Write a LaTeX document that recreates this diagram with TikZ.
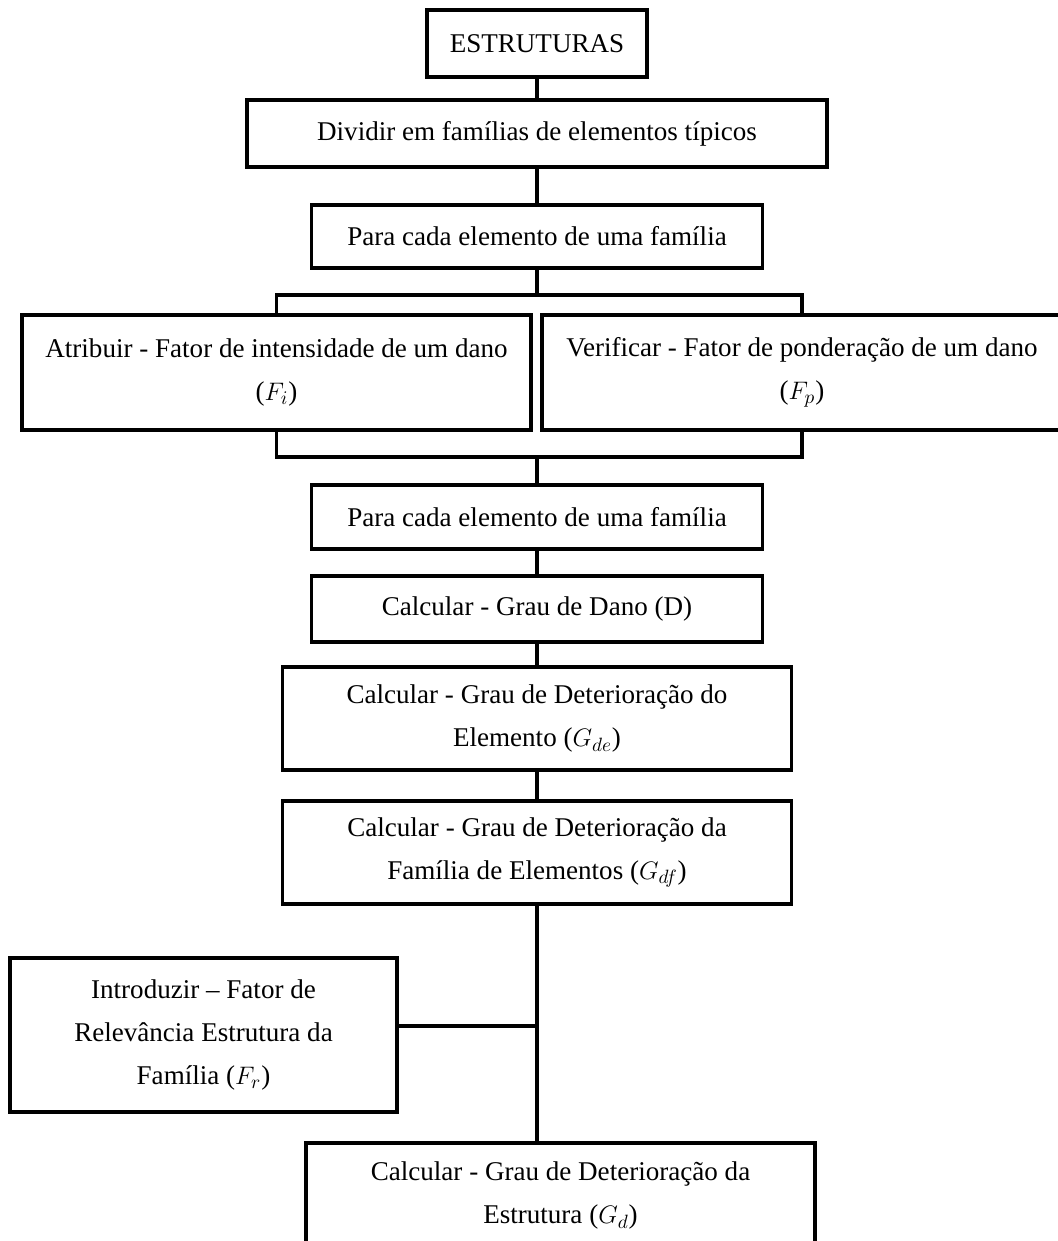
\documentclass[tikz,border=0pt]{standalone}
\usepackage{fontspec}
\setmainfont{Liberation Serif}
\usepackage{tikz}
\usetikzlibrary{positioning}
\tikzset{box/.style={draw,line width=2.1pt,align=center,inner sep=0pt,font=\fontsize{15.4}{24.5}\selectfont},link/.style={line width=2.1pt}}
\begin{document}
\begin{tikzpicture}
\useasboundingbox (0,0) rectangle (21.16,-24.82);
\node[box,minimum width=4.4cm,minimum height=1.34cm] (estr) at (10.74,-0.87) {ESTRUTURAS};
\node[box,minimum width=11.6cm,minimum height=1.34cm] (dividir) at (10.74,-2.67) {Dividir em famílias de elementos típicos};
\node[box,minimum width=9.02cm,minimum height=1.26cm] (para1) at (10.74,-4.73) {Para cada elemento de uma família};
\node[box,minimum width=10.18cm,minimum height=2.3cm] (atrib) at (5.53,-7.45) {Atribuir - Fator de intensidade de um dano\\($F_i$)};
\node[box,minimum width=10.4cm,minimum height=2.3cm] (verif) at (16.04,-7.45) {Verificar - Fator de ponderação de um dano\\($F_p$)};
\node[box,minimum width=9.02cm,minimum height=1.28cm] (para2) at (10.74,-10.34) {Para cada elemento de uma família};
\node[box,minimum width=9.02cm,minimum height=1.32cm] (dano) at (10.74,-12.18) {Calcular - Grau de Dano (D)};
\node[box,minimum width=10.18cm,minimum height=2.06cm] (gde) at (10.74,-14.37) {Calcular - Grau de Deterioração do\\Elemento ($G_{de}$)};
\node[box,minimum width=10.18cm,minimum height=2.06cm] (gdf) at (10.74,-17.05) {Calcular - Grau de Deterioração da\\Família de Elementos ($G_{df}$)};
\node[box,minimum width=7.74cm,minimum height=3.08cm] (intro) at (4.07,-20.7) {Introduzir -- Fator de\\Relevância Estrutura da\\Família ($F_r$)};
\node[box,minimum width=10.18cm,minimum height=2.1cm] (final) at (11.21,-23.91) {Calcular - Grau de Deterioração da\\Estrutura ($G_d$)};
\coordinate (topbar) at (10.74,-5.9);
\coordinate (botbar) at (10.74,-9.14);
\coordinate (join) at (10.74,-20.52);
\draw[link] (estr)--(dividir);
\draw[link] (dividir)--(para1);
\draw[link] (para1)--(topbar);
\draw[link] (atrib.north)|-(topbar)-|(verif.north);
\draw[link] (atrib.south)|-(botbar)-|(verif.south);
\draw[link] (botbar)--(para2);
\draw[link] (para2)--(dano);
\draw[link] (dano)--(gde);
\draw[link] (gde)--(gdf);
\draw[link] (gdf.south)--(gdf.south|-final.north);
\draw[link] (intro.east|-join)--(join);
\end{tikzpicture}
\end{document}
